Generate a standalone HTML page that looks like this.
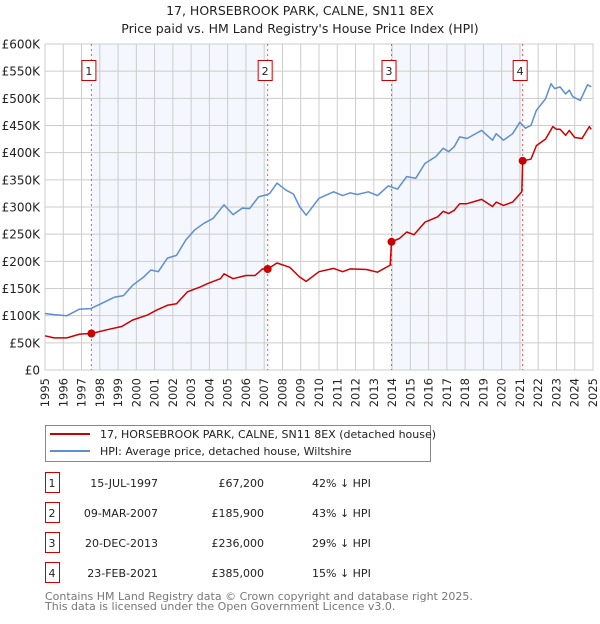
<!DOCTYPE html>
<html><head><meta charset="utf-8"><style>
body{margin:0;background:#fff;font-family:"DejaVu Sans","Liberation Sans",sans-serif;}
svg text{font-family:"DejaVu Sans","Liberation Sans",sans-serif;}
</style></head><body>
<svg id="c" width="600" height="620" xmlns="http://www.w3.org/2000/svg">
<text x="300" y="15" text-anchor="middle" font-size="12.5" fill="#222">17, HORSEBROOK PARK, CALNE, SN11 8EX</text>
<text x="300" y="33" text-anchor="middle" font-size="12.5" fill="#222">Price paid vs. HM Land Registry's House Price Index (HPI)</text>
<g id="plot"></g>
<g>
<rect x="45.5" y="425.5" width="385" height="36" fill="#fff" stroke="#888"/>
<line x1="50" y1="434" x2="90" y2="434" stroke="#cc0000" stroke-width="2"/>
<text x="100" y="438" font-size="11" fill="#222">17, HORSEBROOK PARK, CALNE, SN11 8EX (detached house)</text>
<line x1="50" y1="451" x2="90" y2="451" stroke="#5b8fd0" stroke-width="2"/>
<text x="100" y="455" font-size="11" fill="#222">HPI: Average price, detached house, Wiltshire</text>
</g>
<g id="tbl"></g>
<text x="45" y="600" font-size="11" fill="#777">Contains HM Land Registry data © Crown copyright and database right 2025.</text>
<text x="45" y="610" font-size="11" fill="#777">This data is licensed under the Open Government Licence v3.0.</text>
</svg>
<script>
const hpiYears=[1995,1995.5,1996.2,1996.9,1997.5,1998,1998.8,1999.3,1999.8,2000.4,2000.8,2001.2,2001.7,2002.2,2002.7,2003.2,2003.7,2004.2,2004.8,2005.3,2005.8,2006.2,2006.7,2007.1,2007.3,2007.7,2008.2,2008.6,2008.95,2009.3,2010,2010.8,2011.3,2011.7,2012.1,2012.7,2013.2,2013.8,2014.3,2014.8,2015.3,2015.8,2016.4,2016.8,2017.1,2017.4,2017.7,2018.1,2018.9,2019.5,2019.7,2020.1,2020.6,2021.0,2021.3,2021.6,2021.9,2022.4,2022.7,2022.9,2023.2,2023.5,2023.7,2023.9,2024.3,2024.7,2024.9];
const hpiValues=[104,102,100,112,113,121,134,137,156,171,184,181,206,211,239,258,270,279,304,286,298,297,319,322,325,344,331,324,300,285,316,328,321,326,323,328,321,339,333,356,353,380,393,408,402,411,429,426,441,423,435,423,435,456,445,450,478,499,527,518,521,508,515,503,496,525,521];
const ppYears=[1995,1995.5,1996.2,1996.9,1997.54,1998.5,1999.2,1999.8,2000.6,2001.1,2001.7,2002.2,2002.8,2003.5,2003.9,2004.6,2004.8,2005.3,2006.0,2006.5,2006.9,2007.19,2007.7,2008.4,2008.95,2009.3,2010,2010.8,2011.3,2011.7,2012.6,2013.2,2013.9,2013.97,2014.4,2014.8,2015.2,2015.8,2016.5,2016.8,2017.1,2017.4,2017.7,2018.1,2018.9,2019.5,2019.7,2020.1,2020.6,2021.1,2021.15,2021.6,2021.9,2022.4,2022.8,2023.0,2023.2,2023.5,2023.7,2024.0,2024.4,2024.8,2024.9];
const ppValues=[63,59,59,66,67.2,75,80,92,101,110,119,122,144,153,159,168,177,168,174,174,186,185.9,197,189,171,163,181,187,181,186,185,180,193,236,242,254,249,272,282,292,288,294,306,306,314,301,309,303,309,328,385,388,413,425,448,443,443,432,441,428,426,448,443];
const saleLabels=["1","2","3","4"];
const saleYears=[1997.54,2007.19,2013.97,2021.15];
const saleValues=[67.2,185.9,236,385];
const saleDates=["15-JUL-1997","09-MAR-2007","20-DEC-2013","23-FEB-2021"];
const salePrices=["£67,200","£185,900","£236,000","£385,000"];
const saleDiffs=["42% ↓ HPI","43% ↓ HPI","29% ↓ HPI","15% ↓ HPI"];
const yTicks=[0,50,100,150,200,250,300,350,400,450,500,550,600];
const yTickLabels=["£0","£50K","£100K","£150K","£200K","£250K","£300K","£350K","£400K","£450K","£500K","£550K","£600K"];
const xTicks=[1995,1996,1997,1998,1999,2000,2001,2002,2003,2004,2005,2006,2007,2008,2009,2010,2011,2012,2013,2014,2015,2016,2017,2018,2019,2020,2021,2022,2023,2024,2025];

const L=45,R=593,T=44,B=370;
const X=y=>L+(y-1995)/30*(R-L);
const Y=v=>B-v/600*(B-T);
const NS="http://www.w3.org/2000/svg";
const g=document.getElementById('plot');
function mk(tag,attrs,parent){const e=document.createElementNS(NS,tag);for(const k in attrs)e.setAttribute(k,attrs[k]);(parent||g).appendChild(e);return e;}
let bg=mk('rect',{x:L,y:T,width:R-L,height:B-T,fill:'#fff'});


for(let i=0;i<2;i++){
  let s=mk('rect',{x:X(saleYears[2*i]),y:T,width:X(saleYears[2*i+1])-X(saleYears[2*i]),height:B-T,fill:'#f4f7fd'});
  
  
}
xTicks.forEach(t=>{
  let l=mk('line',{x1:X(t),x2:X(t),y1:T,y2:B,stroke:'#ccc','stroke-width':1});
  
  
  let tx=mk('text',{x:0,y:0,transform:`translate(${X(t)+4},378) rotate(-90)`,'text-anchor':'end','font-size':11.5,fill:'#222'});
  tx.textContent=t;
  
  
});
yTicks.forEach((t,i)=>{
  let l=mk('line',{x1:L,x2:R,y1:Y(t),y2:Y(t),stroke:'#ccc','stroke-width':1});
  
  
  let tx=mk('text',{x:40,y:Y(t)+4.5,'text-anchor':'end','font-size':12,fill:'#222'});
  tx.textContent=yTickLabels[i];
  
  
});
let ax=mk('rect',{x:L,y:T,width:R-L,height:B-T,fill:'none',stroke:'#ccc'});


saleYears.forEach((s,i)=>{
  let l=mk('line',{x1:X(s),x2:X(s),y1:T,y2:B,stroke:'#e55','stroke-width':1,'stroke-dasharray':'2,3'});
  
  
  let bx=mk('rect',{x:X(s)-9.5,y:60.5,width:14,height:20,fill:'#fff',stroke:'#cc0000'});
  
  
  let tx=mk('text',{x:X(s)-2.5,y:75,'text-anchor':'middle','font-size':11,fill:'#222'});
  tx.textContent=saleLabels[i];
  
  
});
function line(xs,vs,col,name){
  let d=xs.map((x,i)=>(i?'L':'M')+X(x).toFixed(1)+','+Y(vs[i]).toFixed(1)).join('');
  let p=mk('path',{d:d,fill:'none',stroke:col,'stroke-width':1.5,'stroke-linejoin':'round'});
  
  
}
line(hpiYears,hpiValues,'#5b8fd0','hpi-line');
line(ppYears,ppValues,'#cc0000','price-paid-line');
saleYears.forEach((s,i)=>{
  let c=mk('circle',{cx:X(s),cy:Y(saleValues[i]),r:4,fill:'#cc0000'});
  
  
});
const tb=document.getElementById('tbl');
saleLabels.forEach((lab,i)=>{
  const cy=483+30*i;
  let bx=mk('rect',{x:45.5,y:cy-10.5,width:14,height:20,fill:'#fff',stroke:'#cc0000'},tb);
  
  
  const cells=[[52,lab,'middle'],[158,saleDates[i],'end'],[264,salePrices[i],'end'],[312,saleDiffs[i],'start']];
  cells.forEach(c=>{
    let t=mk('text',{x:c[0],y:cy+4,'text-anchor':c[2],'font-size':11,fill:'#222'},tb);
    t.textContent=c[1];
    
    
  });
});
</script>
</body></html>
